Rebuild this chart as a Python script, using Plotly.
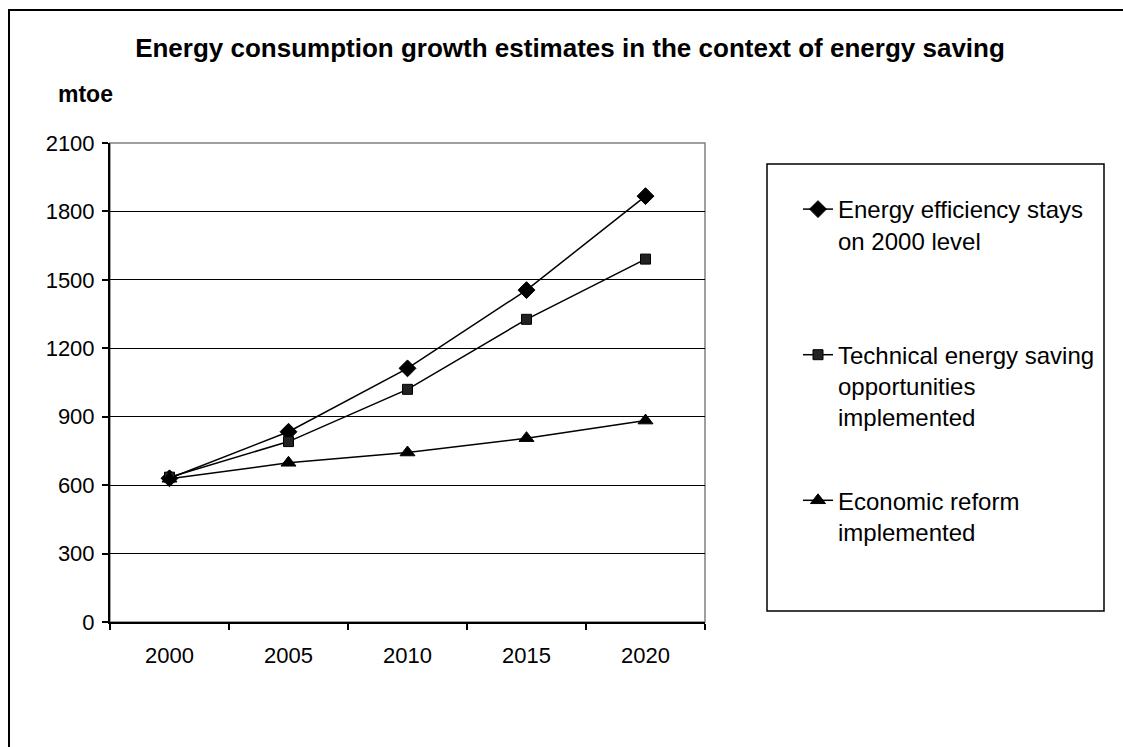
import plotly.graph_objects as go

# Scenario estimates of energy consumption (mtoe)
years = ["2000", "2005", "2010", "2015", "2020"]
efficiency_2000_level = [630, 834, 1112, 1455, 1867]
technical_saving = [635, 791, 1020, 1327, 1591]
economic_reform = [628, 698, 743, 806, 883]

series_names = [
    "Energy efficiency stays<br>on 2000 level<br> ",
    "Technical energy saving<br>opportunities<br>implemented",
    "Economic reform<br>implemented",
]
y_ticks = [0, 300, 600, 900, 1200, 1500, 1800, 2100]

W, H = 1123, 747
L, R, T, B = 110, 705, 143, 622  # plot area in pixels

def px_x(p):
    return (p - L) / (R - L)

def px_y(p):
    return (B - p) / (B - T)

FONT = "Liberation Sans, Arial, sans-serif"

fig = go.Figure()
styles = [
    dict(symbol="diamond", size=13, color="black", line=dict(color="black", width=1)),
    dict(symbol="square", size=10, color="#222222", line=dict(color="black", width=1)),
    dict(symbol="triangle-up", size=13, color="black", line=dict(color="black", width=1)),
]
for i, (name, vals, mk) in enumerate(zip(series_names,
                                         [efficiency_2000_level, technical_saving, economic_reform],
                                         styles)):
    fig.add_trace(go.Scatter(
        x=years, y=vals, name=name, mode="lines+markers",
        line=dict(color="black", width=1.5),
        marker=mk, legendgroup=f"g{i}", cliponaxis=False,
    ))

fig.update_layout(
    width=W, height=H,
    margin=dict(l=L, r=W - R, t=T, b=H - B, pad=0),
    paper_bgcolor="white", plot_bgcolor="white",
    font=dict(family=FONT, color="black", size=22),
    showlegend=True,
    legend=dict(
        xref="container", yref="container",
        x=798 / W, y=1 - 187 / H, xanchor="left", yanchor="top",
        bgcolor="rgba(0,0,0,0)", borderwidth=0,
        font=dict(size=24, family=FONT, color="black"),
        valign="top", tracegroupgap=49,
    ),
    xaxis=dict(
        type="category", categoryorder="array", categoryarray=years,
        range=[-0.5, 4.5], tickson="boundaries",
        ticks="outside", ticklen=6, tickwidth=1.5, tickcolor="black",
        showline=True, linecolor="black", linewidth=2,
        showgrid=False, ticklabelstandoff=13,
        tickfont=dict(size=22, family=FONT, color="black"),
    ),
    yaxis=dict(
        range=[0, 2100], tickvals=y_ticks, ticktext=[str(v) for v in y_ticks],
        ticks="outside", ticklen=6, tickwidth=1.5, tickcolor="black",
        showline=True, linecolor="black", linewidth=2,
        showgrid=True, gridcolor="black", gridwidth=1.2,
        zeroline=False, ticklabelstandoff=3,
        tickfont=dict(size=22, family=FONT, color="black"),
    ),
    title=dict(
        text="<b>Energy consumption growth estimates in the context of energy saving</b>",
        xref="container", yref="container", x=570 / W, y=1 - 48 / H,
        xanchor="center", yanchor="middle",
        font=dict(size=26, family=FONT, color="black"),
    ),
    annotations=[
        dict(text="<b>mtoe</b>", xref="paper", yref="paper",
             x=px_x(56), y=px_y(94), xanchor="left", yanchor="middle",
             showarrow=False, font=dict(size=23, family=FONT, color="black")),
    ],
    shapes=[
        # grey plot-area border (top / right)
        dict(type="rect", xref="paper", yref="paper", x0=0, x1=1, y0=0, y1=1,
             line=dict(color="#808080", width=1.5), layer="below"),
        # legend frame
        dict(type="rect", xref="paper", yref="paper",
             x0=px_x(767), x1=px_x(1104), y0=px_y(611), y1=px_y(164),
             line=dict(color="black", width=1.5)),
        # outer chart frame
        dict(type="rect", xref="paper", yref="paper",
             x0=px_x(9), x1=px_x(1140), y0=px_y(770), y1=px_y(10),
             line=dict(color="black", width=2)),
    ],
)

fig.write_html("out.html")
